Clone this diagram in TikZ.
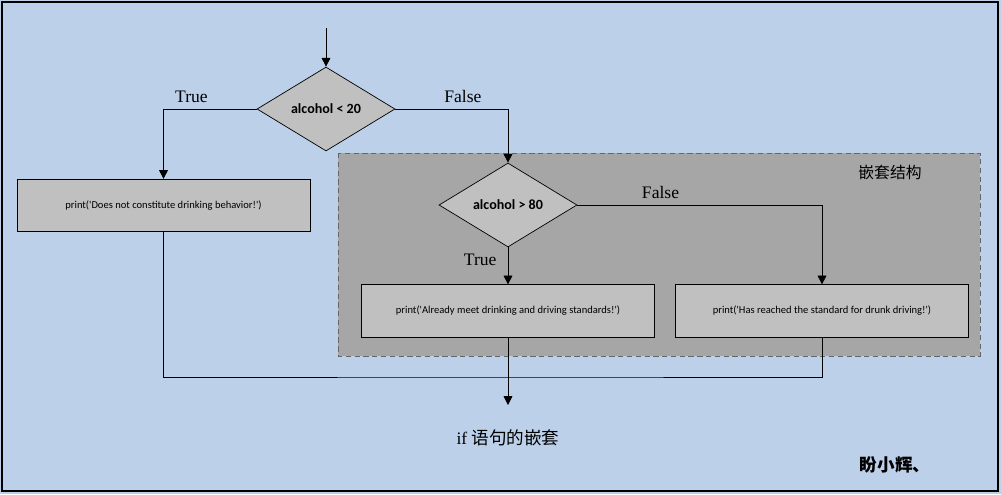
\documentclass[tikz,border=0pt]{standalone}
\usepackage{fontspec}
\setmainfont{Liberation Serif}
\newfontfamily\boxfont{Carlito}
\newfontfamily\cjk{Noto Sans CJK SC}
\usetikzlibrary{arrows.meta,positioning,calc,shapes.geometric}
\definecolor{bgblue}{HTML}{BDD0EA}
\definecolor{nestgray}{HTML}{A6A6A6}
\definecolor{nodegray}{HTML}{C0C0C0}
\tikzstyle{decision}=[draw,fill=nodegray,diamond,aspect=1.64,minimum width=2.76cm,minimum height=1.68cm,inner sep=0pt,font=\boxfont\bfseries\fontsize{8}{9}\selectfont]
\tikzstyle{action}=[draw,fill=nodegray,rectangle,minimum width=5.86cm,minimum height=1.05cm,inner sep=0pt,font=\boxfont\fontsize{6}{7}\selectfont]
\tikzstyle{flow}=[-{Triangle[length=5pt,width=5pt]}]
\begin{document}
\begin{tikzpicture}[x=0.02cm,y=-0.02cm,thin]
\fill[bgblue] (0,0) rectangle (1001,494);
\draw[line width=1.6pt] (2,2) rectangle (998,491);
\draw[densely dashed,draw=black!60,fill=nestgray] (338,153) rectangle (980,356);
\node [decision] (d1) at (326,109) {alcohol < 20};
\node [decision] (d2) at (508,205) {alcohol > 80};
\node [action] (p1) at (163.5,205.5) {print('Does not constitute drinking behavior!')};
\node [action] (p2) at (508,311) {print('Already meet drinking and driving standards!')};
\node [action] (p3) at (822,311) {print('Has reached the standard for drunk driving!')};
\coordinate (start) at (326,28);
\coordinate (join) at (508,377);
\coordinate (stop) at (508,405);
\draw [flow] (start) -- (d1.north);
\draw [flow] (d1.west) -| (p1.north) node [pos=0.35,above] {True};
\draw [flow] (d1.east) -| (d2.north) node [pos=0.3,above] {False};
\draw [flow] (d2.east) -| (p3.north) node [pos=0.17,above] {False};
\draw [flow] (d2.south) -- (p2.north) node [pos=0.35,left=3pt] {True};
\draw (p1.south) |- (join) -| (p3.south);
\draw [flow] (p2.south) -- (stop);
\node (nest) at (890,172) {\cjk\fontsize{9}{10}\selectfont 嵌套结构};
\node (title) at (508,438) {if {\cjk 语句的嵌套}};
\node (sign) at (895,465) {\cjk\bfseries 盼小辉、};
\end{tikzpicture}
\end{document}
